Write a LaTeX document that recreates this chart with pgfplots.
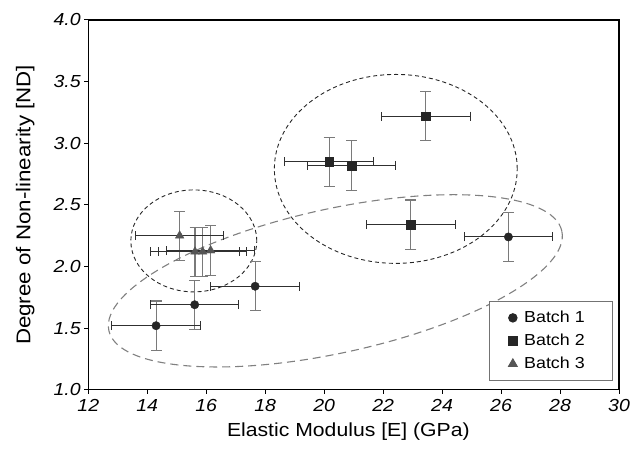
\documentclass[border=0pt]{standalone}
\usepackage{fontspec}
\setmainfont{Liberation Sans}[FakeStretch=1.12]
\usepackage{pgfplots}
\pgfplotsset{compat=1.18}
\usepackage{pgfplotstable}

\definecolor{mk}{HTML}{262626}
\definecolor{tri}{HTML}{555555}
\definecolor{ebx}{HTML}{303030}
\definecolor{eby}{HTML}{7A7A7A}

\pgfplotstableread{
x     y    ex  ey
14.30 1.52 1.5 0.2
15.61 1.69 1.5 0.2
17.66 1.84 1.5 0.2
26.25 2.24 1.5 0.2
}\batchone
\pgfplotstableread{
x     y    ex  ey
23.45 3.22 1.5 0.2
20.17 2.85 1.5 0.2
20.93 2.82 1.5 0.2
22.94 2.34 1.5 0.2
}\batchtwo
\pgfplotstableread{
x     y    ex  ey
15.10 2.25 1.5 0.2
15.62 2.12 1.5 0.2
15.88 2.12 1.5 0.2
16.15 2.13 1.5 0.2
}\batchthree

\pgfplotsset{
  yerrs/.style={only marks, mark=none, forget plot,
    error bars/.cd, y dir=both, y explicit,
    error bar style={draw=eby, line width=1.1bp},
    error mark options={rotate=90, draw=eby, line width=1.1bp, mark size=5.5bp}},
  xerrs/.style={only marks, mark=none, forget plot,
    error bars/.cd, x dir=both, x explicit,
    error bar style={draw=ebx, line width=1.1bp},
    error mark options={rotate=90, draw=ebx, line width=1.1bp, mark size=4.5bp}},
}

\begin{document}
\begin{tikzpicture}
\begin{axis}[
  x=29.5bp, y=123.33bp,
  xmin=12, xmax=30, ymin=1, ymax=4,
  xtick={12,14,...,30}, ytick={1,1.5,2,2.5,3,3.5,4},
  tick pos=left, tick align=outside, major tick length=4bp,
  axis line style={line width=1.3bp},
  tick style={line width=1bp, black},
  /pgf/number format/assume math mode=true,
  ticklabel style={font=\fontsize{17.5}{20}\selectfont\itshape},
  xticklabel style={yshift=-2bp},
  yticklabel style={/pgf/number format/.cd, fixed, fixed zerofill, precision=1},
  xlabel={Elastic Modulus [E] (GPa)},
  ylabel={Degree of Non-linearity [ND]},
  xlabel style={font=\fontsize{19}{22}\selectfont, at={(axis description cs:0.49,-0.1135)}, anchor=center},
  ylabel style={font=\fontsize{20}{23}\selectfont, at={(axis description cs:-0.1186,0.5)}, anchor=center},
  legend style={at={(rel axis cs:0.989,0.024)}, anchor=south east,
    draw=black!55, line width=1bp, fill=white,
    font=\fontsize{16}{19}\selectfont,
    inner xsep=19bp, inner ysep=8bp, row sep=6bp, column sep=5bp},
  legend cell align=left,
  clip=false,
]
\draw[black!85, dash pattern=on 4bp off 3bp, line width=0.9bp]
  (axis cs:15.58,2.208) ellipse [x radius=63bp, y radius=51bp];
\draw[black!85, dash pattern=on 4bp off 3bp, line width=0.9bp]
  (axis cs:22.43,2.792) ellipse [x radius=121.5bp, y radius=94.5bp];
\draw[black!50, dash pattern=on 8bp off 5bp, line width=1.1bp,
  rotate around={12.4:(axis cs:20.38,1.884)}]
  (axis cs:20.38,1.884) ellipse [x radius=232bp, y radius=72bp];

\addplot[yerrs] table[x=x, y=y, y error=ey] {\batchone};
\addplot[xerrs] table[x=x, y=y, x error=ex] {\batchone};
\addplot[yerrs] table[x=x, y=y, y error=ey] {\batchtwo};
\addplot[xerrs] table[x=x, y=y, x error=ex] {\batchtwo};
\addplot[yerrs] table[x=x, y=y, y error=ey] {\batchthree};
\addplot[xerrs] table[x=x, y=y, x error=ex] {\batchthree};

\addplot[only marks, mark=*, mark size=4.2bp, mark options={fill=mk, draw=mk}]
  table[x=x, y=y] {\batchone};
\addlegendentry{Batch 1\hspace*{7bp}}
\addplot[only marks, mark=square*, mark size=4.3bp, mark options={fill=mk, draw=mk}]
  table[x=x, y=y] {\batchtwo};
\addlegendentry{Batch 2\hspace*{7bp}}
\addplot[only marks, mark=triangle*, mark size=5bp, mark options={fill=tri, draw=tri}]
  table[x=x, y=y] {\batchthree};
\addlegendentry{Batch 3\hspace*{7bp}}

\coordinate (bl) at (rel axis cs:0,0);
\coordinate (tr) at (rel axis cs:1,1);
\end{axis}
\pgfresetboundingbox
\path ([shift={(-88.3bp,-63bp)}]bl) rectangle ([shift={(15bp,20bp)}]tr);
\end{tikzpicture}
\end{document}
